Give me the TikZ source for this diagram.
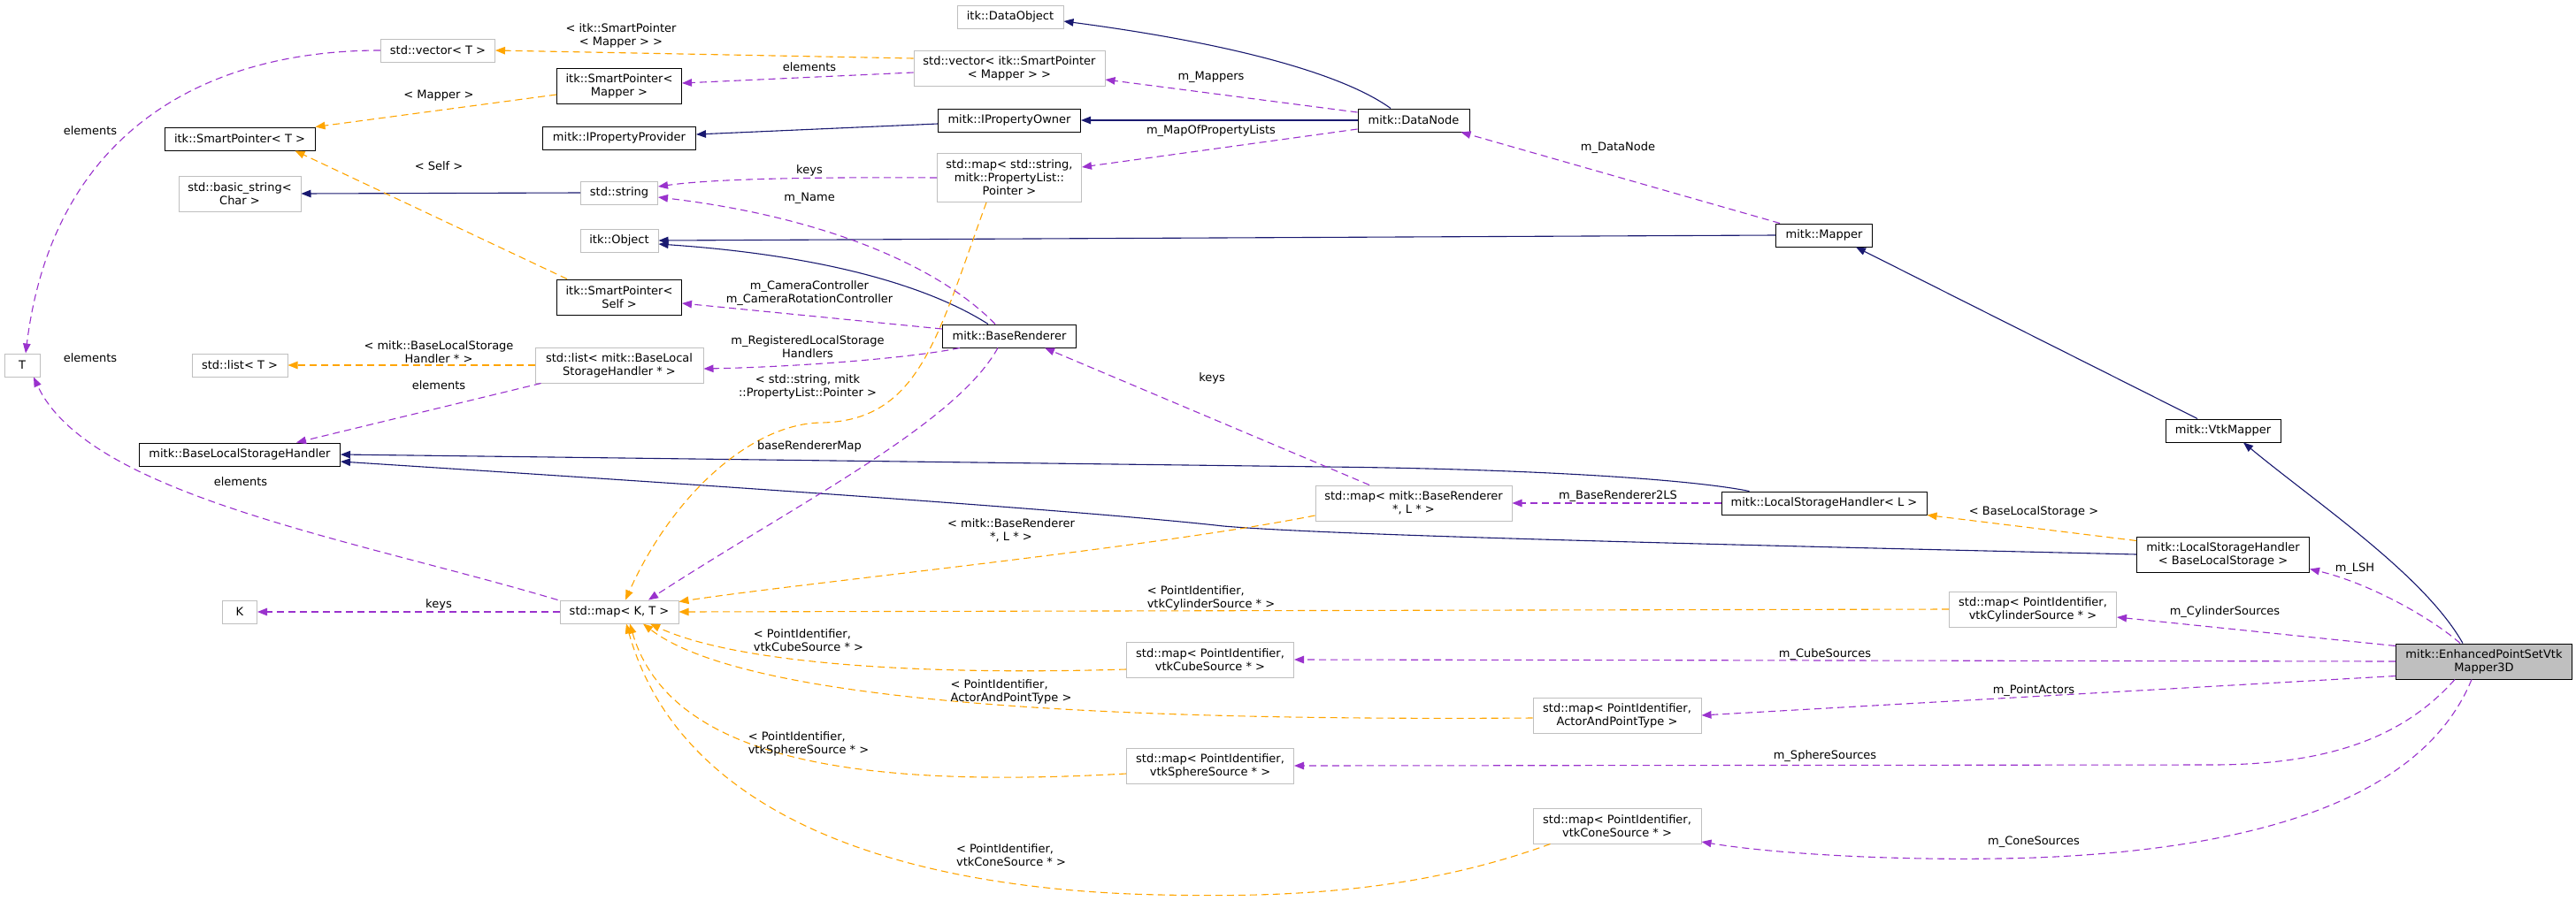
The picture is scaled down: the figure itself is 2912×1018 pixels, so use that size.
\documentclass[tikz,border=0pt]{standalone}
\usepackage{fontspec}
\setmainfont{DejaVu Sans}
\usetikzlibrary{arrows.meta,calc}
\definecolor{inhblue}{HTML}{191970}
\definecolor{usepurple}{HTML}{9A32CD}
\definecolor{tmplorange}{HTML}{FFA500}
\definecolor{boxgray}{HTML}{BFBFBF}
\begin{document}
\begin{tikzpicture}[x=1pt,y=-1pt,font=\fontsize{13}{15}\selectfont,
  gbox/.style={draw=boxgray,fill=white,line width=1pt,inner sep=2pt,align=center},
  bbox/.style={draw=black,fill=white,line width=1pt,inner sep=2pt,align=center},
  lbl/.style={inner sep=0pt,align=center},
  lbll/.style={inner sep=0pt,align=left},
  inh/.style={draw=inhblue,line width=1.1pt,-{Triangle[length=11pt,width=8.5pt]}},
  use/.style={draw=usepurple,line width=1.1pt,dash pattern=on 8pt off 5pt,-{Triangle[length=11pt,width=8.5pt]}},
  tmpl/.style={draw=tmplorange,line width=1.1pt,dash pattern=on 8pt off 5pt,-{Triangle[length=11pt,width=8.5pt]}}]
\fill[white] (0,0) rectangle (2912,1018);
\useasboundingbox (0,0) rectangle (2912,1018);

% nodes
\node[gbox,minimum width=129pt,minimum height=26pt] (vecT) at (495,57) {std::vector< T >};
\node[bbox,minimum width=141pt,minimum height=40pt] (spMapper) at (700,97) {itk::SmartPointer<\\Mapper >};
\node[bbox,minimum width=170pt,minimum height=26pt] (spT) at (271,157) {itk::SmartPointer< T >};
\node[bbox,minimum width=173pt,minimum height=26pt] (ipp) at (700,156) {mitk::IPropertyProvider};
\node[gbox,minimum width=138pt,minimum height=40pt] (bstr) at (271,219) {std::basic\_string<\\Char >};
\node[gbox,minimum width=87pt,minimum height=26pt] (str) at (700,218) {std::string};
\node[gbox,minimum width=88pt,minimum height=26pt] (obj) at (700,272) {itk::Object};
\node[bbox,minimum width=141pt,minimum height=40pt] (spSelf) at (700,336) {itk::SmartPointer<\\Self >};
\node[gbox,minimum width=40pt,minimum height=26pt] (T) at (25,413) {T};
\node[gbox,minimum width=108pt,minimum height=26pt] (listT) at (271,413) {std::list< T >};
\node[gbox,minimum width=190pt,minimum height=40pt] (listB) at (700,413) {std::list< mitk::BaseLocal\\StorageHandler * >};
\node[bbox,minimum width=227pt,minimum height=26pt] (blsh) at (271,514) {mitk::BaseLocalStorageHandler};
\node[gbox,minimum width=39pt,minimum height=26pt] (K) at (271,692) {K};
\node[gbox,minimum width=134pt,minimum height=26pt] (mapKT) at (700,692) {std::map< K, T >};
\node[gbox,minimum width=120pt,minimum height=26pt] (dobj) at (1142,19) {itk::DataObject};
\node[gbox,minimum width=216pt,minimum height=40pt] (vecSP) at (1141,77) {std::vector< itk::SmartPointer\\< Mapper > >};
\node[bbox,minimum width=161pt,minimum height=26pt] (ipo) at (1141,136) {mitk::IPropertyOwner};
\node[gbox,minimum width=163pt,minimum height=55pt] (mapStr) at (1141,201) {std::map< std::string,\\mitk::PropertyList::\\Pointer >};
\node[bbox,minimum width=126pt,minimum height=26pt] (dn) at (1598,136) {mitk::DataNode};
\node[bbox,minimum width=109pt,minimum height=26pt] (mapper) at (2062,266) {mitk::Mapper};
\node[bbox,minimum width=151pt,minimum height=26pt] (br) at (1141,380) {mitk::BaseRenderer};
\node[gbox,minimum width=222pt,minimum height=40pt] (mapBR) at (1598,569) {std::map< mitk::BaseRenderer\\*, L * >};
\node[bbox,minimum width=130pt,minimum height=26pt] (vtk) at (2513,487) {mitk::VtkMapper};
\node[bbox,minimum width=232pt,minimum height=26pt] (lshL) at (2062,569) {mitk::LocalStorageHandler< L >};
\node[bbox,minimum width=195pt,minimum height=40pt] (lshB) at (2513,627) {mitk::LocalStorageHandler\\< BaseLocalStorage >};
\node[gbox,minimum width=189pt,minimum height=40pt] (cyl) at (2298,689) {std::map< PointIdentifier,\\vtkCylinderSource * >};
\node[bbox,fill=boxgray,minimum width=199pt,minimum height=40pt] (eps) at (2808,748) {mitk::EnhancedPointSetVtk\\Mapper3D};
\node[gbox,minimum width=189pt,minimum height=40pt] (cube) at (1368,746) {std::map< PointIdentifier,\\vtkCubeSource * >};
\node[gbox,minimum width=190pt,minimum height=40pt] (actor) at (1828,809) {std::map< PointIdentifier,\\ActorAndPointType >};
\node[gbox,minimum width=189pt,minimum height=40pt] (sphere) at (1368,866) {std::map< PointIdentifier,\\vtkSphereSource * >};
\node[gbox,minimum width=190pt,minimum height=40pt] (cone) at (1828,934) {std::map< PointIdentifier,\\vtkConeSource * >};

% inheritance
\draw[inh] ($(dn.north)+(-26,0)$) .. controls (1520,85) and (1400,50) .. ($(dobj.east)+(0,5)$);
\draw[inh] (dn.west) -- (ipo.east);
\draw[inh] ($(ipo.west)+(0,4)$) -- ($(ipp.east)+(0,-4)$);
\draw[inh] (str.west) -- (bstr.east);
\draw[inh] (mapper.west) -- (obj.east);
\draw[inh] ($(br.north)+(-24,0)$) .. controls (1060,330) and (950,290) .. ($(obj.east)+(0,4)$);
\draw[inh] ($(vtk.north)+(-29,0)$) -- ($(mapper.south)+(36,0)$);
\draw[inh] ($(eps.north)+(-24,0)$) .. controls (2740,650) and (2620,570) .. ($(vtk.south)+(23,0)$);
\draw[inh] ($(lshL.north west)+(32,0)$) .. controls (1900,540) and (1700,530) .. (1500,528) -- (blsh.east);
\draw[inh] (lshB.west) .. controls (1900,615) and (1500,605) .. (1383,595) .. controls (1250,580) and (900,555) .. ($(blsh.east)+(0,8)$);

% template instantiation
\draw[tmpl] ($(vecSP.west)+(0,-11)$) -- (vecT.east);
\draw[tmpl] ($(spMapper.west)+(0,10)$) -- (spT.north east);
\draw[tmpl] ($(spSelf.north west)+(12,0)$) -- ($(spT.south east)+(-23,0)$);
\draw[tmpl] (listB.west) -- (listT.east);
\draw[tmpl] ($(mapStr.south)+(-26,0)$) .. controls (1060,380) and (1040,475) .. (930,478) .. controls (850,478) and (760,560) .. ($(mapKT.north)+(7,0)$);
\draw[tmpl] ($(mapBR.west)+(0,14)$) .. controls (1300,620) and (900,660) .. ($(mapKT.north east)+(0,2)$);
\draw[tmpl] (cyl.west) -- (mapKT.east);
\draw[tmpl] ($(cube.west)+(0,11)$) .. controls (1000,765) and (820,745) .. ($(mapKT.south)+(35,0)$);
\draw[tmpl] ($(actor.west)+(0,3)$) .. controls (1300,815) and (850,800) .. ($(mapKT.south)+(27,0)$);
\draw[tmpl] ($(sphere.west)+(0,9)$) .. controls (1000,890) and (760,870) .. ($(mapKT.south)+(12,0)$);
\draw[tmpl] ($(cone.south west)+(20,0)$) .. controls (1600,1010) and (1450,1015) .. (1312,1012) .. controls (1100,1008) and (780,960) .. ($(mapKT.south)+(8,0)$);
\draw[tmpl] ($(lshB.north west)+(0,5)$) -- (lshL.south east);

% usage
\draw[use] (vecT.west) .. controls (230,57) and (60,150) .. ($(T.north)+(4,0)$);
\draw[use] ($(vecSP.west)+(0,5)$) -- ($(spMapper.east)+(0,-3)$);
\draw[use] ($(dn.west)+(0,-9)$) -- ($(vecSP.east)+(0,13)$);
\draw[use] ($(dn.west)+(0,10)$) -- ($(mapStr.east)+(0,-12)$);
\draw[use] (mapStr.west) .. controls (900,200) and (800,203) .. ($(str.east)+(0,-7)$);
\draw[use] ($(br.north)+(-16,0)$) .. controls (1060,300) and (930,245) .. ($(str.east)+(0,5)$);
\draw[use] ($(br.west)+(0,-8)$) -- ($(spSelf.east)+(0,7)$);
\draw[use] ($(br.south west)+(20,0)$) .. controls (1030,405) and (900,415) .. ($(listB.east)+(0,4)$);
\draw[use] ($(listB.south west)+(7,0)$) -- ($(blsh.north east)+(-50,0)$);
\draw[use] ($(mapKT.north west)+(-2,0)$) .. controls (400,610) and (100,560) .. ($(T.south)+(13,0)$);
\draw[use] (mapKT.west) -- (K.east);
\draw[use] ($(br.south)+(-13,0)$) .. controls (1080,480) and (900,570) .. ($(mapKT.north)+(33,0)$);
\draw[use] ($(mapBR.north)+(-50,0)$) -- ($(br.south)+(40,0)$);
\draw[use] (lshL.west) -- (mapBR.east);
\draw[use] ($(mapper.north west)+(5,0)$) -- ($(dn.south east)+(-10,0)$);
\draw[use] ($(eps.north)+(-27,0)$) .. controls (2750,700) and (2680,660) .. ($(lshB.south east)+(0,-4)$);
\draw[use] ($(eps.north west)+(0,3)$) -- ($(cyl.east)+(0,9)$);
\draw[use] (eps.west) -- (cube.east);
\draw[use] ($(eps.south west)+(0,-4)$) -- (actor.east);
\draw[use] ($(eps.south)+(-33,0)$) .. controls (2720,830) and (2640,865) .. (2500,865) -- (sphere.east);
\draw[use] ($(eps.south)+(-14,0)$) .. controls (2740,900) and (2560,960) .. (2300,970) .. controls (2150,975) and (2000,965) .. ($(cone.east)+(0,18)$);

% labels
\node[lbl] (l1) at (702,40) {< itk::SmartPointer\\< Mapper > >};
\node[lbl] (l2) at (915,76) {elements};
\node[lbl] (l3) at (496,108) {< Mapper >};
\node[lbl] (l4) at (102,148) {elements};
\node[lbl] (l5) at (496,188) {< Self >};
\node[lbl] (l6) at (915,193) {keys};
\node[lbl] (l7) at (915,224) {m\_Name};
\node[lbl] (l8) at (915,332) {m\_CameraController\\m\_CameraRotationController};
\node[lbl] (l9) at (102,405) {elements};
\node[lbl] (l10) at (496,398) {< mitk::BaseLocalStorage\\Handler * >};
\node[lbl] (l11) at (496,436) {elements};
\node[lbl] (l12) at (272,545) {elements};
\node[lbl] (l13) at (913,392) {m\_RegisteredLocalStorage\\Handlers};
\node[lbl] (l14) at (913,437) {< std::string, mitk\\::PropertyList::Pointer >};
\node[lbl] (l15) at (915,505) {baseRendererMap};
\node[lbl] (l16) at (496,684) {keys};
\node[lbl] (l17) at (1369,87) {m\_Mappers};
\node[lbl] (l18) at (1369,148) {m\_MapOfPropertyLists};
\node[lbl] (l19) at (1829,167) {m\_DataNode};
\node[lbl] (l20) at (1370,428) {keys};
\node[lbl] (l21) at (1829,561) {m\_BaseRenderer2LS};
\node[lbl] (l22) at (1143,600) {< mitk::BaseRenderer\\*, L * >};
\node[lbll] (l23) at (1369,676) {< PointIdentifier,\\vtkCylinderSource * >};
\node[lbl] (l24) at (2299,579) {< BaseLocalStorage >};
\node[lbl] (l25) at (2662,643) {m\_LSH};
\node[lbl] (l26) at (2515,692) {m\_CylinderSources};
\node[lbl] (l27) at (2063,740) {m\_CubeSources};
\node[lbl] (l28) at (2299,781) {m\_PointActors};
\node[lbl] (l29) at (2063,855) {m\_SphereSources};
\node[lbl] (l30) at (2299,952) {m\_ConeSources};
\node[lbll] (l31) at (1143,782) {< PointIdentifier,\\ActorAndPointType >};
\node[lbll] (l32) at (1143,967) {< PointIdentifier,\\vtkConeSource * >};
\node[lbll] (l33) at (914,724) {< PointIdentifier,\\vtkCubeSource * >};
\node[lbll] (l34) at (914,841) {< PointIdentifier,\\vtkSphereSource * >};
\end{tikzpicture}
\end{document}
